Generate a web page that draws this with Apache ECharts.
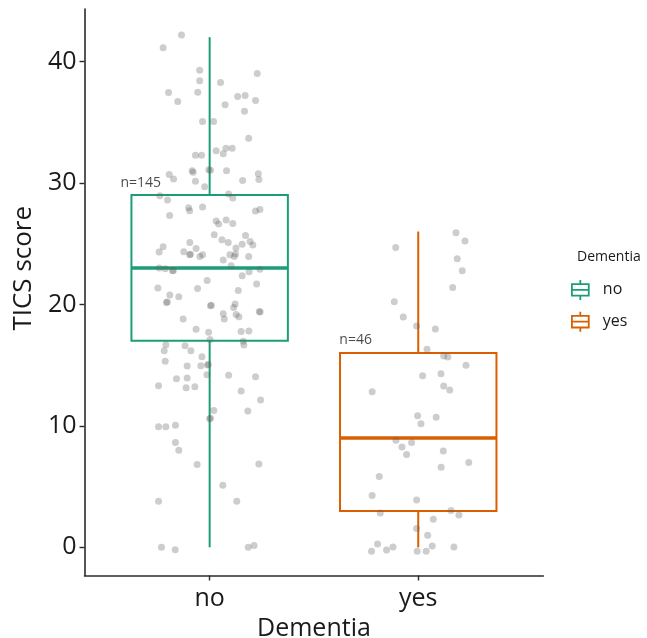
<!DOCTYPE html>
<html>
<head>
<meta charset="utf-8">
<script src="https://cdn.jsdelivr.net/npm/echarts@6/dist/echarts.min.js"></script>
<style>
html,body{margin:0;padding:0;background:#fff;}
#chart{width:647px;height:638px;}
</style>
</head>
<body>
<div id="chart"></div>
<script>
const categories = ['no', 'yes'];
const whiskerLow = [0, 0];
const q1 = [17, 3];
const median = [23, 9];
const q3 = [29, 16];
const whiskerHigh = [42, 26];
const counts = [145, 46];
const nLabelX = [0.67, 1.70];
const nLabelY = [30, 17.1];
const yTicks = [0, 10, 20, 30, 40];

const noJitter = [-0.135,-0.223,-0.048,0.228,-0.048,0.052,-0.197,-0.057,-0.153,0.134,
0.170,0.220,0.074,0.167,-0.034,0.019,0.187,0.031,0.078,0.108,
0.065,-0.068,-0.039,-0.084,-0.079,-0.004,0.081,-0.194,-0.173,-0.068,
0.233,0.236,0.158,-0.024,-0.239,-0.202,0.091,0.111,
-0.101,-0.096,-0.034,-0.192,0.220,0.241,0.031,0.043,0.079,0.111,
0.022,0.059,0.172,-0.095,-0.223,-0.242,-0.124,-0.065,-0.096,-0.047,
-0.034,0.089,0.156,0.126,0.194,0.207,0.097,0.118,0.124,0.187,
0.065,0.103,-0.242,-0.213,-0.178,0.189,0.241,0.156,-0.012,0.225,
-0.248,-0.058,0.137,-0.191,-0.148,-0.207,0.004,0.122,0.115,0.242,
0.065,0.070,0.127,0.140,-0.127,-0.065,-0.005,0.151,0.188,0.002,
0.161,0.164,-0.210,-0.118,-0.218,-0.090,-0.037,-0.213,-0.010,-0.042,
-0.108,-0.013,0.091,0.220,-0.159,-0.108,-0.245,-0.113,-0.071,0.151,
0.244,
0.020,0.000,0.183,-0.245,-0.210,-0.164,-0.164,-0.148,-0.060,0.236,0.063,-0.245,0.130,-0.231,-0.165,0.185,0.213,
-0.092,-0.203,0.008,0.238,-0.006,-0.174,0.004,0.004];

const noScore = [42.17,41.13,39.28,39.01,38.41,38.27,37.44,37.47,36.70,37.11,
37.20,36.78,36.43,35.90,35.05,35.05,33.67,32.66,32.85,32.85,
32.41,32.27,32.27,31.01,30.87,31.09,31.01,30.70,30.33,30.13,
30.76,30.29,30.21,29.69,28.95,28.59,29.09,28.76,
27.96,27.71,28.02,27.32,27.69,27.82,26.86,26.61,26.94,26.66,
25.73,25.32,25.67,25.10,24.74,24.31,24.33,24.60,24.08,23.94,
24.08,25.10,24.96,24.64,25.18,24.88,24.08,23.94,24.14,23.94,
23.65,23.18,22.99,22.93,22.76,22.68,22.90,22.35,21.96,21.67,
21.34,21.30,21.14,20.78,20.62,20.15,19.88,20.04,19.74,19.38,
19.24,18.80,19.16,18.99,18.80,17.95,17.71,17.76,17.81,17.10,
16.96,16.66,16.68,16.60,16.19,16.19,15.69,15.32,15.01,14.95,
14.93,14.21,14.16,14.05,13.88,13.94,13.30,13.14,13.22,12.87,
12.12,
11.27,10.58,11.22,9.92,9.92,10.04,8.64,8.00,6.82,6.85,5.11,3.79,3.79,0.00,-0.19,0.00,0.16,
24.12,20.19,19.92,19.42,15.05,22.80,31.05,10.62];

const yesJitter = [0.181,0.224,-0.108,0.187,0.211,0.165,-0.115,-0.072,-0.008,0.082,
0.042,0.122,0.142,0.229,0.021,0.109,-0.221,0.122,0.151,-0.003,
0.013,0.086,-0.107,-0.032,-0.078,-0.056,0.120,0.242,0.110,-0.187,
-0.221,-0.008,-0.182,0.157,0.195,0.072,-0.008,0.045,-0.195,-0.224,
-0.152,-0.121,-0.005,0.038,0.067,0.171];

const yesScore = [25.90,25.21,24.68,23.75,22.76,21.39,20.21,18.97,18.23,17.98,
16.30,15.75,15.67,14.99,14.13,14.29,12.81,13.28,12.95,10.83,
10.17,10.70,8.82,8.64,8.25,7.65,7.94,6.99,6.60,5.83,
4.26,3.90,2.83,3.03,2.66,2.31,1.54,0.99,0.27,-0.33,
-0.22,0.02,-0.33,-0.33,0.11,0.02];

const groupColors = ['#1B9E77', '#D95F02'];
const FONT = 'Open Sans';
const TEXT = '#1a1a1a';
const AXIS = '#2b2b2b';

const chart = echarts.init(document.getElementById('chart'), null, {renderer: 'canvas'});

function boxRender(color) {
  return function (params, api) {
    const x = api.value(0), lo = api.value(1), a = api.value(2), m = api.value(3), b = api.value(4), hi = api.value(5);
    const hw = 0.375;
    const tl = api.coord([x - hw, b]);
    const br = api.coord([x + hw, a]);
    const pm = api.coord([x, m]);
    const plo = api.coord([x, lo]);
    const phi = api.coord([x, hi]);
    return {
      type: 'group',
      children: [
        {type: 'line', shape: {x1: phi[0], y1: phi[1], x2: phi[0], y2: tl[1]}, style: {stroke: color, lineWidth: 2}},
        {type: 'line', shape: {x1: plo[0], y1: br[1], x2: plo[0], y2: plo[1]}, style: {stroke: color, lineWidth: 2}},
        {type: 'rect', shape: {x: tl[0], y: tl[1], width: br[0] - tl[0], height: br[1] - tl[1]}, style: {fill: 'none', stroke: color, lineWidth: 2}},
        {type: 'line', shape: {x1: tl[0], y1: pm[1], x2: br[0], y2: pm[1]}, style: {stroke: color, lineWidth: 3.5}}
      ]
    };
  };
}

const boxSeries = categories.map((c, i) => ({
  name: c,
  type: 'custom',
  z: 2,
  silent: true,
  itemStyle: {color: groupColors[i]},
  renderItem: boxRender(groupColors[i]),
  encode: {x: 0, y: [1, 2, 3, 4, 5]},
  data: [[i + 1, whiskerLow[i], q1[i], median[i], q3[i], whiskerHigh[i]]]
}));

const pointStyle = {color: 'rgba(100,100,100,0.4)'};
const pointSeries = [
  {type: 'scatter', z: 5, silent: true, symbolSize: 7, itemStyle: pointStyle,
   data: noJitter.map((j, k) => [1 + j, noScore[k]])},
  {type: 'scatter', z: 5, silent: true, symbolSize: 7, itemStyle: pointStyle,
   data: yesJitter.map((j, k) => [2 + j, yesScore[k]])}
];

const labelSeries = {
  type: 'scatter', z: 6, silent: true, symbolSize: 0,
  data: nLabelX.map((x, i) => [x, nLabelY[i]]),
  label: {show: true, position: 'inside', formatter: p => 'n=' + counts[p.dataIndex],
          color: TEXT, fontSize: 14, fontFamily: FONT}
};

const iconPath = 'path://M8,0 L8,4 M0,4 L16,4 L16,15 L0,15 Z M0,9.5 L16,9.5 M8,15 L8,19';

chart.setOption({
  animation: false,
  backgroundColor: '#ffffff',
  textStyle: {fontFamily: FONT},
  title: [{
    text: 'Dementia', left: 577, top: 250, padding: 0,
    textStyle: {fontSize: 14, fontWeight: 'normal', color: TEXT, fontFamily: FONT}
  }],
  legend: {
    orient: 'vertical', left: 571, top: 279, padding: 0,
    itemWidth: 17, itemHeight: 20, itemGap: 10,
    icon: iconPath,
    data: categories.map((c, i) => ({
      name: c,
      itemStyle: {color: 'rgba(0,0,0,0)', borderColor: groupColors[i], borderWidth: 1.8}
    })),
    textStyle: {fontSize: 16, color: TEXT, fontFamily: FONT, padding: [0, 0, 0, 9]}
  },
  grid: {left: 84.5, right: 103.6, top: 9, bottom: 62.5, containLabel: false, outerBoundsMode: 'none'},
  xAxis: {
    type: 'value', min: 0.4, max: 2.6,
    splitLine: {show: false},
    axisLine: {show: true, onZero: false, lineStyle: {color: AXIS, width: 1.6}},
    axisTick: {show: true, length: 5, customValues: [1, 2], lineStyle: {color: AXIS, width: 1.4}},
    axisLabel: {customValues: [1, 2], formatter: v => categories[Math.round(v) - 1],
                fontSize: 25, color: TEXT, margin: 11, fontFamily: FONT},
    name: 'Dementia', nameLocation: 'middle', nameGap: 37,
    nameTextStyle: {fontSize: 25, color: TEXT, fontFamily: FONT}
  },
  yAxis: {
    type: 'value', min: -2.32, max: 44.32,
    splitLine: {show: false},
    axisLine: {show: true, onZero: false, lineStyle: {color: AXIS, width: 1.6}},
    axisTick: {show: true, length: 5, customValues: yTicks, lineStyle: {color: AXIS, width: 1.4}},
    axisLabel: {customValues: yTicks, fontSize: 25, color: TEXT, margin: 8, fontFamily: FONT},
    name: 'TICS score', nameLocation: 'middle', nameGap: 43,
    nameTextStyle: {fontSize: 26, color: TEXT, fontFamily: FONT, padding: [0, 0, 0, 48]}
  },
  series: [...boxSeries, ...pointSeries, labelSeries]
});
</script>
</body>
</html>
